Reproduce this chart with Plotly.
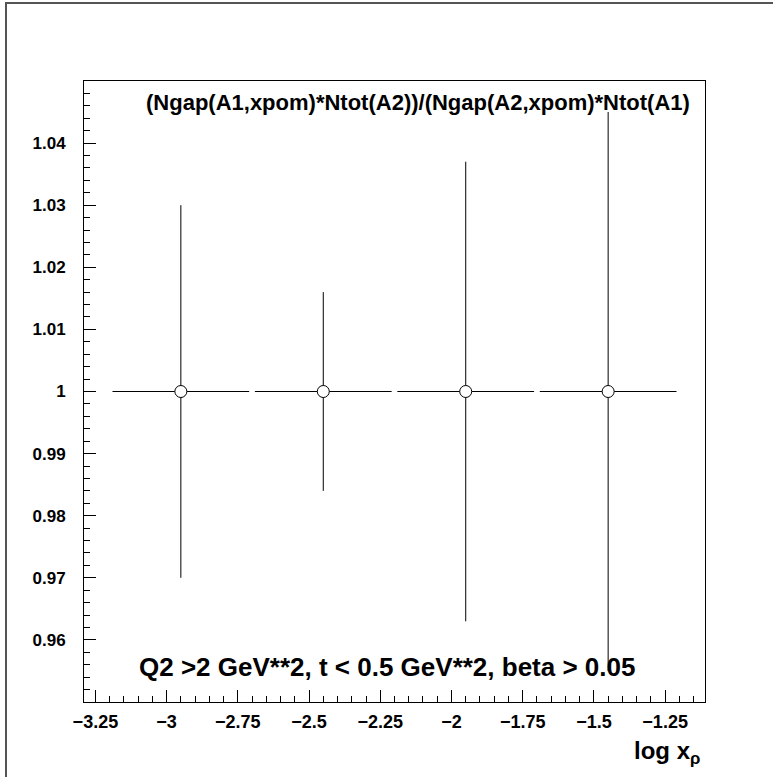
import plotly.graph_objects as go

# Data
log_xp = [-2.95, -2.45, -1.95, -1.45]
ratio = [1.0, 1.0, 1.0, 1.0]
x_halfwidth = [0.24, 0.24, 0.24, 0.24]
y_error = [0.030, 0.016, 0.037, 0.045]

x_ticks = [-3.25, -3.0, -2.75, -2.5, -2.25, -2.0, -1.75, -1.5, -1.25]
x_ticklabels = ["−3.25", "−3", "−2.75", "−2.5", "−2.25", "−2", "−1.75", "−1.5", "−1.25"]
y_ticks = [0.96, 0.97, 0.98, 0.99, 1.00, 1.01, 1.02, 1.03, 1.04]
y_ticklabels = ["0.96", "0.97", "0.98", "0.99", "1", "1.01", "1.02", "1.03", "1.04"]

title_text = "(Ngap(A1,xpom)*Ntot(A2))/(Ngap(A2,xpom)*Ntot(A1)"
cut_text = "Q2 >2 GeV**2, t < 0.5 GeV**2, beta > 0.05"

W, H = 773, 777
L, R, T, B = 84, 705, 81, 702
pw, ph = R - L, B - T

def px(x):
    return (x - L) / pw

def py(y):
    return (B - y) / ph

FONT = "Liberation Sans"

fig = go.Figure()
fig.add_trace(go.Scatter(
    x=log_xp, y=ratio, mode="markers",
    marker=dict(symbol="circle", size=12, color="white",
                line=dict(color="black", width=1)),
    error_x=dict(type="data", array=x_halfwidth, color="black", thickness=1, width=0),
    error_y=dict(type="data", array=y_error, color="black", thickness=1, width=0),
    showlegend=False,
))

axis_common = dict(
    showline=True, linecolor="black", linewidth=1, mirror=True,
    showgrid=False, zeroline=False,
    ticks="inside", ticklen=12, tickwidth=1, tickcolor="black",
)

fig.update_layout(
    width=W, height=H,
    margin=dict(l=L, r=W - R, t=T, b=H - B),
    paper_bgcolor="white", plot_bgcolor="white",
    xaxis=dict(range=[-3.29, -1.11], tickmode="array", tickvals=x_ticks, ticktext=x_ticklabels,
               minor=dict(tick0=-3.25, dtick=0.05, ticks="inside", ticklen=6, tickcolor="black"),
               tickfont=dict(family=FONT, size=18, color="black", weight="bold"),
               ticklabelstandoff=3, **axis_common),
    yaxis=dict(range=[0.95, 1.05], tickmode="array", tickvals=y_ticks, ticktext=y_ticklabels,
               minor=dict(tick0=0.96, dtick=0.002, ticks="inside", ticklen=6, tickcolor="black"),
               tickfont=dict(family=FONT, size=17, color="black", weight="bold"),
               ticklabelstandoff=14, **axis_common),
    shapes=[
        dict(type="rect", xref="paper", yref="paper",
             x0=px(6), x1=px(800), y0=py(800), y1=py(3),
             line=dict(color="#555555", width=2), fillcolor="rgba(0,0,0,0)", layer="above"),
    ],
    annotations=[
        dict(text=title_text, xref="paper", yref="paper", x=px(418), y=py(102),
             xanchor="center", yanchor="middle", showarrow=False,
             font=dict(family=FONT, size=22, color="black", weight="bold")),
        dict(text=cut_text, xref="paper", yref="paper", x=px(387), y=py(667),
             xanchor="center", yanchor="middle", showarrow=False,
             font=dict(family=FONT, size=26, color="black", weight="bold")),
        dict(text="log x<sub>ρ</sub>", xref="paper", yref="paper", x=px(702), y=py(752),
             xanchor="right", yanchor="middle", showarrow=False,
             font=dict(family=FONT, size=24, color="black", weight="bold")),
    ],
)

fig.write_html("out.html")
